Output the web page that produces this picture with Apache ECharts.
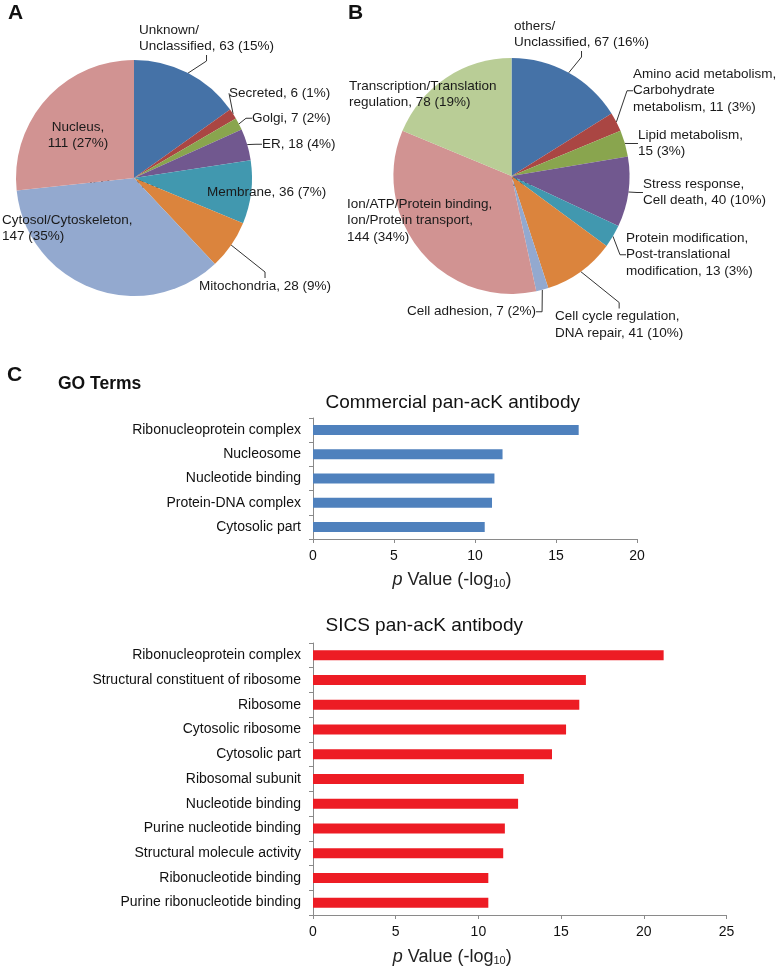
<!DOCTYPE html>
<html><head><meta charset="utf-8">
<script src="https://cdn.jsdelivr.net/npm/echarts@6/dist/echarts.min.js"></script>
<style>html,body{margin:0;padding:0;background:#fff}#c{width:777px;height:969px}</style>
</head><body><div id="c"></div>
<script>
// ---- Data ----
const locationNames = ['Unknown/\nUnclassified', 'Secreted', 'Golgi', 'ER', 'Membrane', 'Mitochondria', 'Cytosol/Cytoskeleton', 'Nucleus'];
const locationCounts = [63, 6, 7, 18, 36, 28, 147, 111];
const locationPercents = ['15%', '1%', '2%', '4%', '7%', '9%', '35%', '27%'];

const functionNames = ['others/\nUnclassified', 'Amino acid metabolism,\nCarbohydrate\nmetabolism', 'Lipid metabolism', 'Stress response,\nCell death', 'Protein modification,\nPost-translational\nmodification', 'Cell cycle regulation,\nDNA repair', 'Cell adhesion', 'Ion/ATP/Protein binding,\nIon/Protein transport', 'Transcription/Translation\nregulation'];
const functionCounts = [67, 11, 15, 40, 13, 41, 7, 144, 78];
const functionPercents = ['16%', '3%', '3%', '10%', '3%', '10%', '2%', '34%', '19%'];
const pieCenterText = '416 proteins';

const commercialTerms = ['Ribonucleoprotein complex', 'Nucleosome', 'Nucleotide binding', 'Protein-DNA complex', 'Cytosolic part'];
const commercialValues = [16.4, 11.7, 11.2, 11.05, 10.6];
const commercialTicks = {min: 0, max: 20, step: 5};

const sicsTerms = ['Ribonucleoprotein complex', 'Structural constituent of ribosome', 'Ribosome', 'Cytosolic ribosome', 'Cytosolic part', 'Ribosomal subunit', 'Nucleotide binding', 'Purine nucleotide binding', 'Structural molecule activity', 'Ribonucleotide binding', 'Purine ribonucleotide binding'];
const sicsValues = [21.2, 16.5, 16.1, 15.3, 14.45, 12.75, 12.4, 11.6, 11.5, 10.6, 10.6];
const sicsTicks = {min: 0, max: 25, step: 5};

// ---- Styles / layout ----
const FONT = '"Liberation Sans", Arial, Helvetica, sans-serif';
const pieAColors = ['#4572A7', '#AA4643', '#89A54E', '#71588F', '#4198AF', '#DB843D', '#93A9CF', '#D19392'];
const pieBColors = ['#4572A7', '#AA4643', '#89A54E', '#71588F', '#4198AF', '#DB843D', '#93A9CF', '#D19392', '#B9CD96'];
const pieALayout = [
  {x: 139, y: 22, sep: ' ', line: true},
  {x: 229, y: 85, sep: ' ', line: true},
  {x: 252, y: 110, sep: ' ', line: true},
  {x: 262, y: 136, sep: ' ', line: true},
  {x: 207, y: 184, sep: ' ', line: false},
  {x: 199, y: 278, sep: ' ', line: true},
  {x: 2, y: 212, sep: '\n', line: false},
  {x: 78, y: 119, sep: '\n', line: false, align: 'center'}
];
const pieBLayout = [
  {x: 514, y: 18, sep: ' ', line: true},
  {x: 633, y: 66, sep: ' ', line: true},
  {x: 638, y: 127, sep: '\n', line: true},
  {x: 643, y: 176, sep: ' ', line: true},
  {x: 626, y: 230, sep: ' ', line: true},
  {x: 555, y: 308.5, sep: ' ', line: true},
  {x: 407, y: 303.5, sep: ' ', line: true},
  {x: 347, y: 196, sep: '\n', line: false},
  {x: 349, y: 78, sep: ' ', line: false}
];

function pieSeries(names, counts, pcts, colors, center, layout) {
  return {
    type: 'pie', center: center, radius: 118, startAngle: 90, clockwise: true,
    avoidLabelOverlap: false, animation: false, silent: true,
    itemStyle: {borderWidth: 0},
    label: {show: true, position: 'outside', color: '#1a1a1a', fontSize: 13.5, lineHeight: 16.5, fontFamily: FONT,
      formatter: function (p) { const i = p.dataIndex; return names[i] + ',' + layout[i].sep + counts[i] + ' (' + pcts[i] + ')'; }},
    labelLine: {show: true, length: 8, length2: 6, smooth: false, lineStyle: {color: '#333', width: 1}},
    labelLayout: function (p) { const L = layout[p.dataIndex]; return {x: L.x, y: L.y, align: L.align || 'left', verticalAlign: 'top'}; },
    data: names.map(function (n, i) { return {name: n, value: counts[i], itemStyle: {color: colors[i]}, labelLine: {show: layout[i].line}}; })
  };
}

const axisGray = '#8a8a8a';
function xAxisCfg(gridIndex, ticks, padR, gap) {
  return {
    gridIndex: gridIndex, type: 'value', min: ticks.min, max: ticks.max, interval: ticks.step,
    axisLine: {show: true, lineStyle: {color: axisGray, width: 1}},
    axisTick: {show: true, length: 4, lineStyle: {color: axisGray}},
    splitLine: {show: false},
    axisLabel: {fontSize: 14, color: '#111', margin: 10, fontFamily: FONT},
    name: '{i|p} Value (-log{s|10})', nameLocation: 'middle', nameGap: gap,
    nameTextStyle: {fontSize: 18, color: '#222', fontFamily: FONT, padding: [0, padR, 0, 0],
      rich: {i: {fontStyle: 'italic', fontSize: 18, fontFamily: FONT, color: '#222'},
             s: {fontSize: 11, verticalAlign: 'bottom', fontFamily: FONT, color: '#222'}}}
  };
}
function yAxisCfg(gridIndex, terms) {
  return {
    gridIndex: gridIndex, type: 'category', data: terms, inverse: true,
    axisLine: {show: true, lineStyle: {color: axisGray, width: 1}},
    axisTick: {show: true, length: 4, lineStyle: {color: axisGray}},
    axisLabel: {fontSize: 14, color: '#111', margin: 12, fontFamily: FONT},
    splitLine: {show: false}
  };
}

function txt(x, y, text, font, align) {
  return {type: 'text', x: x, y: y, silent: true, style: {text: text, font: font, fill: '#111', align: align || 'left', verticalAlign: 'middle'}};
}

const option = {
  backgroundColor: '#fff',
  animation: false,
  textStyle: {fontFamily: FONT},
  grid: [
    {left: 313, top: 418, width: 324, height: 121, outerBoundsMode: 'none', containLabel: false},
    {left: 313, top: 643, width: 413.5, height: 272, outerBoundsMode: 'none', containLabel: false}
  ],
  xAxis: [xAxisCfg(0, commercialTicks, 46, 32), xAxisCfg(1, sicsTicks, 135, 33)],
  yAxis: [yAxisCfg(0, commercialTerms), yAxisCfg(1, sicsTerms)],
  series: [
    pieSeries(locationNames, locationCounts, locationPercents, pieAColors, [134, 178], pieALayout),
    pieSeries(functionNames, functionCounts, functionPercents, pieBColors, [511.5, 176], pieBLayout),
    {type: 'bar', xAxisIndex: 0, yAxisIndex: 0, data: commercialValues, barWidth: 10, itemStyle: {color: '#4F81BD'}, silent: true},
    {type: 'bar', xAxisIndex: 1, yAxisIndex: 1, data: sicsValues, barWidth: 10, itemStyle: {color: '#ED1C24'}, silent: true}
  ],
  graphic: [
    txt(8, 13, 'A', 'bold 21px ' + FONT),
    txt(348, 13, 'B', 'bold 21px ' + FONT),
    txt(7, 375, 'C', 'bold 21px ' + FONT),
    txt(58, 384.5, 'GO Terms', 'bold 17.5px ' + FONT),
    txt(135.5, 184.5, pieCenterText, 'bold 16px ' + FONT, 'center'),
    txt(509, 182, pieCenterText, 'bold 16px ' + FONT, 'center'),
    txt(325.5, 403, 'Commercial pan-acK antibody', '19px ' + FONT),
    txt(325.5, 626, 'SICS pan-acK antibody', '19px ' + FONT)
  ]
};
const chart = echarts.init(document.getElementById('c'), null, {renderer: 'canvas'});
chart.setOption(option);
</script>
</body></html>
